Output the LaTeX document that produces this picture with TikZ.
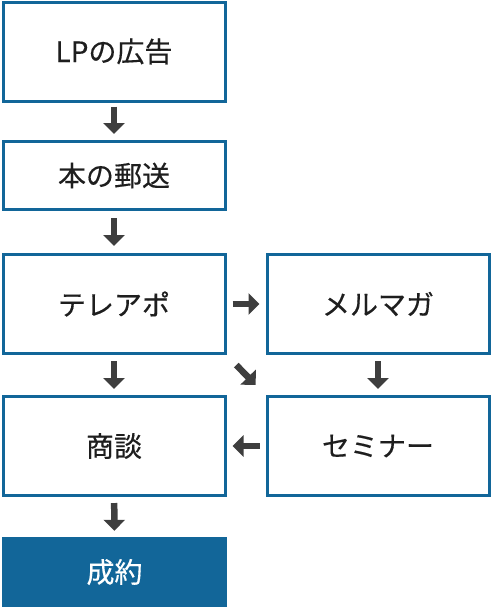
\documentclass[tikz,border=0pt]{standalone}
\usepackage{fontspec}
\newfontfamily\jpfont[FakeBold=0.4]{Noto Sans CJK JP}
\usepackage{tikz}
\usetikzlibrary{arrows.meta}
\usepackage{xcolor}
\definecolor{flowblue}{RGB}{18,102,153}
\definecolor{flowtext}{RGB}{30,30,30}
\definecolor{flowarrow}{RGB}{62,62,62}
\tikzset{
  flowbox/.style={draw=flowblue, line width=3pt, fill=white, minimum width=222pt, text=flowtext, font=\jpfont\fontsize{28pt}{32pt}\selectfont},
  goalbox/.style={fill=flowblue, minimum width=225pt, minimum height=70pt, text=white, font=\jpfont\fontsize{28pt}{32pt}\selectfont},
  flowarr/.style={draw=flowarrow, line width=6.5pt, -{Triangle[length=11pt,width=21pt]}}
}

\begin{document}
\begin{tikzpicture}[x=1pt,y=-1pt]
    \useasboundingbox (0,0) rectangle (492,608);
    \node[flowbox, minimum height=99pt] (lp) at (114,51.5) {LPの広告};
    \node[flowbox, minimum height=68pt] (book) at (114,175.5) {本の郵送};
    \node[flowbox, minimum height=99pt] (tel) at (114,304) {テレアポ};
    \node[flowbox, minimum height=99pt] (mail) at (378,304) {メルマガ};
    \node[flowbox, minimum height=99pt] (talk) at (114,446) {商談};
    \node[flowbox, minimum height=99pt] (sem) at (378,446) {セミナー};
    \node[goalbox] (deal) at (114.5,572) {成約};
    \draw [flowarr, shorten <=4pt, shorten >=6pt] (lp) -- (book);
    \draw [flowarr, shorten <=7pt, shorten >=7pt] (book) -- (tel);
    \draw [flowarr, shorten <=6pt, shorten >=6pt] (tel) -- (mail);
    \draw [flowarr, shorten <=6pt, shorten >=6pt] (tel) -- (talk);
    \draw [flowarr, shorten <=6pt, shorten >=6pt] (mail) -- (sem);
    \draw [flowarr, shorten <=6pt, shorten >=6pt] (sem) -- (talk);
    \draw [flowarr, shorten <=6pt, shorten >=6pt] (talk) -- (deal);
    \draw [flowarr, shorten <=14pt, shorten >=14pt] (tel.south east) -- (sem.north west);
\end{tikzpicture}
\end{document}
